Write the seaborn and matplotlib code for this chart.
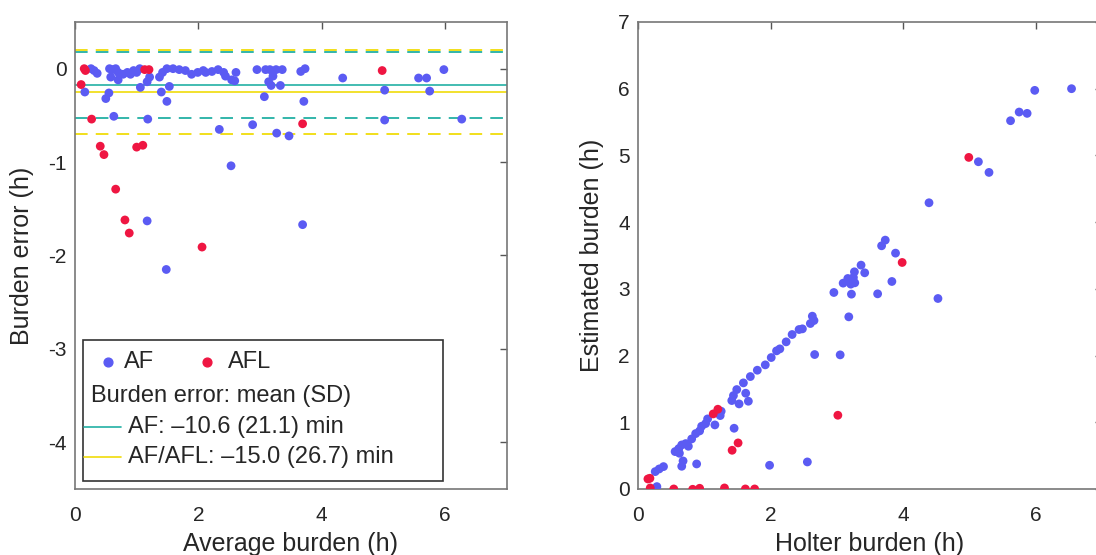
import pandas as pd
import matplotlib
matplotlib.use("Agg")
import matplotlib.pyplot as plt
import seaborn as sns
from matplotlib.patches import Rectangle

# -----------------------------
# data: average burden (h), burden error (h)
# -----------------------------
af_avg = [0.16, 0.26, 0.31, 0.36, 0.50, 0.55, 0.63,
          0.56, 0.61, 0.66, 0.70, 0.58, 0.70, 0.78, 0.85, 0.90, 0.95, 1.00, 1.05,
          1.06, 1.17, 1.21, 1.18, 1.17, 1.48,
          1.37, 1.42, 1.49, 1.59, 1.69, 1.79, 1.89, 1.99, 2.08,
          1.40, 1.53, 1.49,
          2.12, 2.22, 2.32, 2.41, 2.44, 2.54, 2.59, 2.61, 2.34, 2.53,
          2.88, 2.95, 3.09, 3.16, 3.26, 3.36, 3.07, 3.14, 3.18, 3.33, 3.21,
          3.27, 3.47, 3.66, 3.73, 3.71, 3.69,
          4.34, 5.02, 5.02, 5.57, 5.70, 5.75, 5.98, 6.27]
af_err = [-0.25, 0.00, -0.02, -0.05, -0.32, -0.26, -0.51,
          0.00, -0.01, 0.00, -0.04, -0.09, -0.12, -0.06, -0.04, -0.06, -0.02, -0.04, 0.00,
          -0.20, -0.14, -0.09, -0.54, -1.63, -2.15,
          -0.09, -0.04, 0.00, 0.00, -0.01, -0.02, -0.06, -0.04, -0.02,
          -0.25, -0.19, -0.35,
          -0.04, -0.03, -0.01, -0.04, -0.08, -0.12, -0.13, -0.04, -0.65, -1.04,
          -0.60, -0.01, -0.01, -0.01, -0.01, -0.01, -0.30, -0.14, -0.18, -0.18, -0.08,
          -0.69, -0.72, -0.03, 0.00, -0.35, -1.67,
          -0.10, -0.23, -0.55, -0.10, -0.10, -0.24, -0.01, -0.54]

afl_avg = [0.15, 0.17, 0.10, 0.27, 0.41, 0.47, 0.66, 0.81, 0.88,
           1.00, 1.10, 1.13, 1.20, 2.06, 3.69, 4.98]
afl_err = [0.00, -0.02, -0.17, -0.54, -0.83, -0.92, -1.29, -1.62, -1.76,
           -0.84, -0.82, -0.01, -0.01, -1.91, -0.59, -0.02]

# burden error: mean (SD), minutes
af_mean, af_sd = -10.6, 21.1
all_mean, all_sd = -15.0, 26.7

df = pd.DataFrame({
    "avg": af_avg + afl_avg,
    "err": af_err + afl_err,
    "rhythm": ["AF"] * len(af_avg) + ["AFL"] * len(afl_avg),
})
df["holter"] = df["avg"] - df["err"] / 2
df["estimated"] = df["avg"] + df["err"] / 2

blue = "#5b5bf3"
red = "#ef1642"
teal = "#22b0a4"
yellow = "#f0dc0a"
pal = {"AF": blue, "AFL": red}
txt = "#262626"
dash = (0, (7, 4.5))
msize = 40

sns.set_theme(style="white")
plt.rcParams['font.family'] = ['Liberation Sans', 'DejaVu Sans']
plt.rcParams['axes.unicode_minus'] = False

fig = plt.figure(figsize=(10.96, 5.55), dpi=100)
ax1 = fig.add_axes([0.0684, 0.119, 0.394, 0.8414])
ax2 = fig.add_axes([0.5821, 0.119, 0.4234, 0.8414])

# -----------------------------
# left: Bland-Altman
# -----------------------------
ax1.axhline(af_mean / 60, color=teal, lw=1.2, zorder=1)
ax1.axhline((af_mean + af_sd) / 60, color=teal, lw=1.3, ls=dash, zorder=1)
ax1.axhline((af_mean - af_sd) / 60, color=teal, lw=1.3, ls=dash, zorder=1)
ax1.axhline(all_mean / 60, color=yellow, lw=1.2, zorder=1)
ax1.axhline((all_mean + all_sd) / 60, color=yellow, lw=1.3, ls=dash, zorder=1)
ax1.axhline((all_mean - all_sd) / 60, color=yellow, lw=1.3, ls=dash, zorder=1)

sns.scatterplot(data=df, x="avg", y="err", hue="rhythm", palette=pal, s=msize,
                linewidth=0, alpha=1, legend=False, ax=ax1, zorder=3)
ax1.set_xlim(0, 7)
ax1.set_ylim(-4.5, 0.5)
ax1.set_xticks([0, 2, 4, 6])
ax1.set_yticks([0, -1, -2, -3, -4])
ax1.set_xlabel("Average burden (h)", fontsize=18, color=txt, labelpad=5)
ax1.set_ylabel("Burden error (h)", fontsize=18, color=txt, labelpad=10)

# legend box
ax1.add_patch(Rectangle((0.019, 0.018), 0.834, 0.302, transform=ax1.transAxes,
                        facecolor="white", edgecolor="#333333", lw=1.2, zorder=5))
ax1.scatter([0.076], [0.272], s=msize, color=blue, transform=ax1.transAxes, zorder=6)
ax1.text(0.113, 0.272, "AF", fontsize=17, color=txt, va="center", transform=ax1.transAxes, zorder=6)
ax1.scatter([0.306], [0.272], s=msize, color=red, transform=ax1.transAxes, zorder=6)
ax1.text(0.355, 0.272, "AFL", fontsize=17, color=txt, va="center", transform=ax1.transAxes, zorder=6)
ax1.text(0.036, 0.199, "Burden error: mean (SD)", fontsize=17, color=txt, va="center",
         transform=ax1.transAxes, zorder=6)
ax1.plot([0.021, 0.106], [0.133, 0.133], color=teal, lw=1.2, transform=ax1.transAxes, zorder=6)
ax1.text(0.122, 0.133, "AF: \u201310.6 (21.1) min", fontsize=17, color=txt, va="center",
         transform=ax1.transAxes, zorder=6)
ax1.plot([0.021, 0.106], [0.069, 0.069], color=yellow, lw=1.2, transform=ax1.transAxes, zorder=6)
ax1.text(0.122, 0.069, "AF/AFL: \u201315.0 (26.7) min", fontsize=17, color=txt, va="center",
         transform=ax1.transAxes, zorder=6)

# -----------------------------
# right: estimated vs Holter
# -----------------------------
sns.scatterplot(data=df, x="holter", y="estimated", hue="rhythm", palette=pal, s=msize,
                linewidth=0, alpha=1, legend=False, ax=ax2, zorder=3)
ax2.set_xlim(0, 7)
ax2.set_ylim(0, 7)
ax2.set_xticks([0, 2, 4, 6])
ax2.set_yticks(range(0, 8))
ax2.set_xlabel("Holter burden (h)", fontsize=18, color=txt, labelpad=5)
ax2.set_ylabel("Estimated burden (h)", fontsize=18, color=txt, labelpad=10)

for ax in (ax1, ax2):
    ax.tick_params(direction="in", top=True, right=True, length=5, width=1,
                   color="#555555", labelcolor=txt, labelsize=15)
    ax.tick_params(axis="x", pad=12)
    ax.tick_params(axis="y", pad=6)
    for sp in ax.spines.values():
        sp.set_color("#777777")
        sp.set_linewidth(1.2)

fig.savefig("out.png", dpi=100)
